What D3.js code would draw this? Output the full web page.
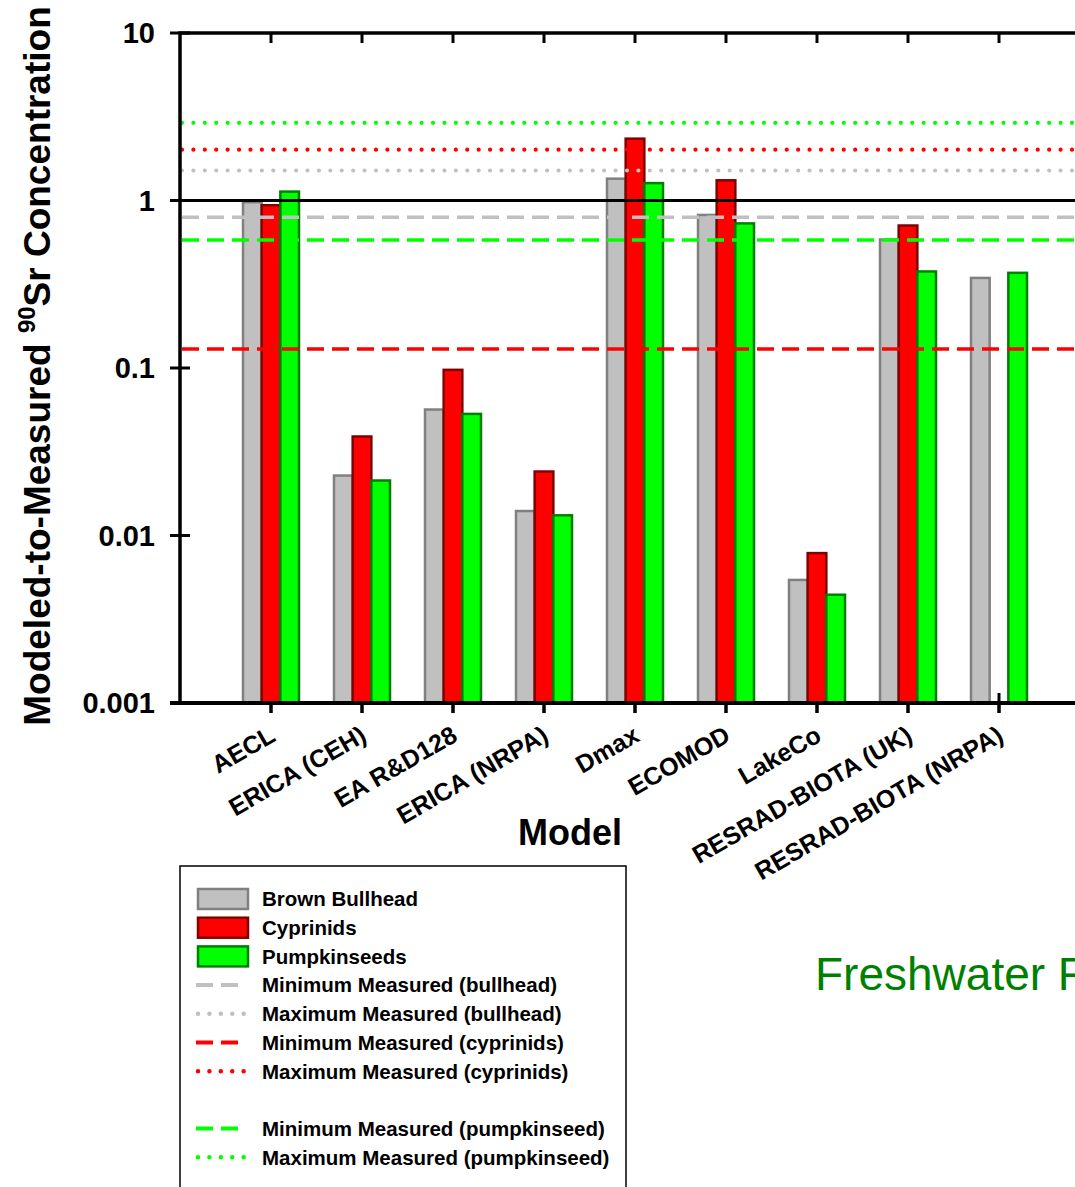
<!DOCTYPE html>
<html>
<head>
<meta charset="utf-8">
<script src="https://cdn.jsdelivr.net/npm/d3@7"></script>
<style>
  body { margin: 0; background: #fff; }
  svg { display: block; font-family: "Liberation Sans", Arial, sans-serif; }
</style>
</head>
<body>
<svg width="1075" height="1187"></svg>
<script>
const width = 1075;
const height = 1187;

// data
const models = ['AECL', 'ERICA (CEH)', 'EA R&D128', 'ERICA (NRPA)', 'Dmax', 'ECOMOD', 'LakeCo', 'RESRAD-BIOTA (UK)', 'RESRAD-BIOTA (NRPA)'];
const bullhead = [0.977, 0.0228, 0.0565, 0.0140, 1.35, 0.82, 0.00543, 0.585, 0.345];
const cyprinids = [0.937, 0.039, 0.0975, 0.0241, 2.34, 1.32, 0.00785, 0.709, null];
const pumpkinseeds = [1.13, 0.0213, 0.0532, 0.0132, 1.27, 0.73, 0.00443, 0.377, 0.370];

const speciesNames = ['Brown Bullhead', 'Cyprinids', 'Pumpkinseeds'];
const measuredNames = ['bullhead', 'cyprinids', 'pumpkinseed'];
const minMeasured = [0.795, 0.130, 0.582];
const maxMeasured = [1.51, 2.01, 2.91];

const yTicks = [0.001, 0.01, 0.1, 1, 10];
const yTickLabels = ['0.001', '0.01', '0.1', '1', '10'];

const fills = ['#c0c0c0', '#ff0000', '#00ff00'];
const strokes = ['#808080', '#800000', '#008000'];

const series = [bullhead, cyprinids, pumpkinseeds];

const svg = d3.select('svg');

const plot = {left: 180, right: 1090, top: 33, bottom: 703};

const x = d3.scalePoint()
  .domain(models)
  .range([plot.left, plot.right])
  .padding(1);

const xSub = d3.scaleBand()
  .domain(d3.range(3))
  .range([-28, 28]);

const y = d3.scaleLog()
  .domain([0.001, 10])
  .range([plot.bottom, plot.top]);

const dashed = '17,8';
const dotted = '0.01,11.4';

// inner part of bottom ticks (sits behind bars)
svg.append('g')
  .selectAll('line')
  .data(models)
  .join('line')
  .attr('x1', d => x(d))
  .attr('x2', d => x(d))
  .attr('y1', plot.bottom - 10)
  .attr('y2', plot.bottom + 10)
  .attr('stroke', '#000')
  .attr('stroke-width', 3);

// bars
series.forEach((vals, s) => {
  svg.append('g')
    .selectAll('rect')
    .data(models.map((m, i) => ({model: m, value: vals[i]})).filter(d => d.value != null))
    .join('rect')
    .attr('x', d => x(d.model) + xSub(s))
    .attr('width', xSub.bandwidth())
    .attr('y', d => y(d.value))
    .attr('height', d => y(0.001) - y(d.value))
    .attr('fill', fills[s])
    .attr('stroke', strokes[s])
    .attr('stroke-width', 2.5);
});

// measured min / max lines
const refLines = [];
measuredNames.forEach((n, i) => {
  refLines.push({value: minMeasured[i], color: fills[i], dash: dashed, w: 3.5, cap: 'butt'});
  refLines.push({value: maxMeasured[i], color: fills[i], dash: dotted, w: 4.2, cap: 'round'});
});

svg.append('g')
  .selectAll('line')
  .data(refLines)
  .join('line')
  .attr('x1', plot.left + 2)
  .attr('x2', plot.right)
  .attr('y1', d => y(d.value))
  .attr('y2', d => y(d.value))
  .attr('stroke', d => d.color)
  .attr('stroke-width', d => d.w)
  .attr('stroke-dasharray', d => d.dash)
  .attr('stroke-linecap', d => d.cap);

// ratio of one
svg.append('line')
  .attr('x1', plot.left)
  .attr('x2', plot.right)
  .attr('y1', y(1))
  .attr('y2', y(1))
  .attr('stroke', '#000')
  .attr('stroke-width', 3);

// frame
svg.append('path')
  .attr('d', `M${plot.left},${plot.bottom}V${plot.top}H${plot.right}`)
  .attr('fill', 'none')
  .attr('stroke', '#000')
  .attr('stroke-width', 3.5);

svg.append('line')
  .attr('x1', plot.left - 10)
  .attr('x2', plot.right)
  .attr('y1', plot.bottom)
  .attr('y2', plot.bottom)
  .attr('stroke', '#000')
  .attr('stroke-width', 4);

// bottom ticks outer part
svg.append('g')
  .selectAll('line')
  .data(models)
  .join('line')
  .attr('x1', d => x(d))
  .attr('x2', d => x(d))
  .attr('y1', plot.bottom)
  .attr('y2', plot.bottom + 10)
  .attr('stroke', '#000')
  .attr('stroke-width', 3);

// top ticks
svg.append('g')
  .selectAll('line')
  .data(models)
  .join('line')
  .attr('x1', d => x(d))
  .attr('x2', d => x(d))
  .attr('y1', plot.top)
  .attr('y2', plot.top + 10)
  .attr('stroke', '#000')
  .attr('stroke-width', 3);

// y ticks
svg.append('g')
  .selectAll('line')
  .data(yTicks)
  .join('line')
  .attr('x1', plot.left - 10)
  .attr('x2', (d, i) => i === 0 ? plot.left : plot.left + 10)
  .attr('y1', d => y(d))
  .attr('y2', d => y(d))
  .attr('stroke', '#000')
  .attr('stroke-width', 3);

svg.append('g')
  .selectAll('text')
  .data(yTicks)
  .join('text')
  .attr('x', plot.left - 25)
  .attr('y', d => y(d))
  .attr('dy', '0.36em')
  .attr('text-anchor', 'end')
  .attr('font-size', 29)
  .attr('font-weight', 'bold')
  .text((d, i) => yTickLabels[i]);

// x tick labels
svg.append('g')
  .selectAll('text')
  .data(models)
  .join('text')
  .attr('transform', d => `translate(${x(d) + 6},${plot.bottom + 37}) rotate(-30)`)
  .attr('text-anchor', 'end')
  .attr('font-size', 25)
  .attr('font-weight', 'bold')
  .text(d => d);

// axis titles
svg.append('text')
  .attr('x', 570)
  .attr('y', 845)
  .attr('text-anchor', 'middle')
  .attr('font-size', 36)
  .attr('font-weight', 'bold')
  .text('Model');

const yTitle = svg.append('text')
  .attr('transform', `translate(50,${(plot.top + plot.bottom) / 2 - 2}) rotate(-90)`)
  .attr('text-anchor', 'middle')
  .attr('font-size', 37)
  .attr('font-weight', 'bold');
yTitle.append('tspan').text('Modeled-to-Measured ');
yTitle.append('tspan').attr('font-size', 24).attr('dy', -15).text('90');
yTitle.append('tspan').attr('dy', 15).text('Sr Concentration');

// side note
svg.append('text')
  .attr('x', 815)
  .attr('y', 990)
  .attr('font-size', 46)
  .attr('fill', '#008000')
  .text('Freshwater Fish');

// legend
const legend = svg.append('g');
legend.append('rect')
  .attr('x', 180)
  .attr('y', 866)
  .attr('width', 446)
  .attr('height', 360)
  .attr('fill', 'none')
  .attr('stroke', '#000')
  .attr('stroke-width', 1.5);

const legendItems = [];
speciesNames.forEach((n, i) => legendItems.push({type: 'bar', label: n, i}));
measuredNames.forEach((n, i) => {
  legendItems.push({type: 'line', label: `Minimum Measured (${n})`, dash: dashed, w: 4, cap: 'butt', i});
  legendItems.push({type: 'line', label: `Maximum Measured (${n})`, dash: dotted, w: 4.5, cap: 'round', i});
  if (i === 1) legendItems.push({type: 'gap'});
});

const rowY = d3.scaleLinear().domain([0, 1]).range([899, 899 + 28.7]);

legendItems.forEach((d, k) => {
  const cy = rowY(k);
  if (d.type === 'gap') return;
  if (d.type === 'bar') {
    legend.append('rect')
      .attr('x', 198)
      .attr('y', cy - 10)
      .attr('width', 50)
      .attr('height', 20)
      .attr('fill', fills[d.i])
      .attr('stroke', strokes[d.i])
      .attr('stroke-width', 2.5);
  } else {
    legend.append('line')
      .attr('x1', d.cap === 'round' ? 198 : 196)
      .attr('x2', d.cap === 'round' ? 245 : 240)
      .attr('y1', cy)
      .attr('y2', cy)
      .attr('stroke', fills[d.i])
      .attr('stroke-width', d.w)
      .attr('stroke-dasharray', d.dash)
      .attr('stroke-linecap', d.cap);
  }
  legend.append('text')
    .attr('x', 262)
    .attr('y', cy)
    .attr('dy', '0.36em')
    .attr('font-size', 20.5)
    .attr('font-weight', 'bold')
    .text(d.label);
});
</script>
</body>
</html>
